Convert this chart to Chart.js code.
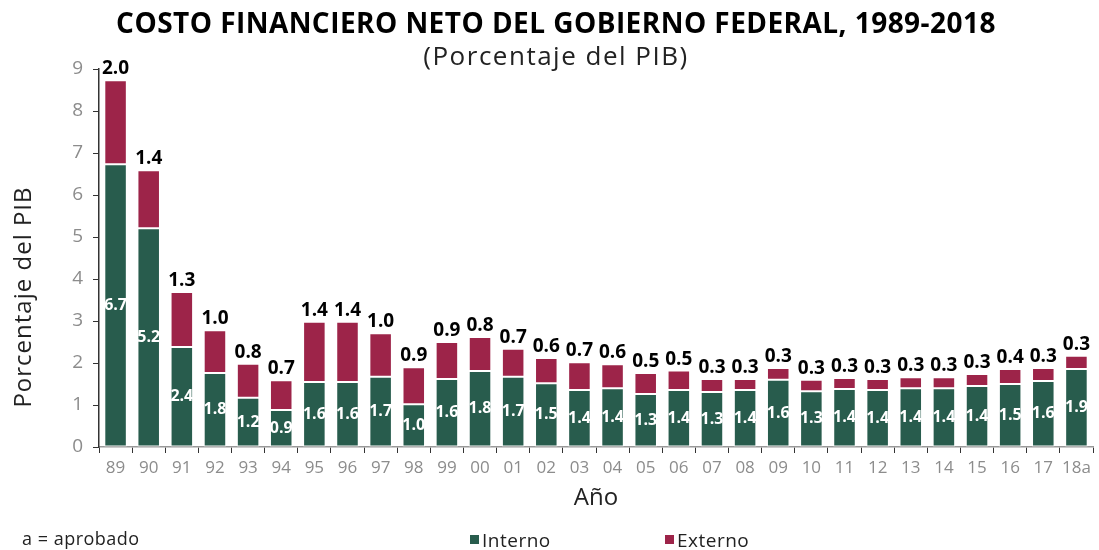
<!DOCTYPE html>
<html>
<head>
<meta charset="utf-8">
<script src="https://cdn.jsdelivr.net/npm/chart.js@4.4.1/dist/chart.umd.min.js"></script>
<style>
  html, body { margin: 0; padding: 0; background: #fff; }
  #wrap { position: relative; width: 1099px; height: 550px; }
  canvas { display: block; }
</style>
</head>
<body>
<div id="wrap"><canvas id="c" width="1099" height="550"></canvas></div>
<script>
const categories = ['89','90','91','92','93','94','95','96','97','98','99','00','01','02','03','04','05','06','07','08','09','10','11','12','13','14','15','16','17','18a'];
const interno = [6.73,5.21,2.38,1.76,1.17,0.88,1.55,1.55,1.67,1.02,1.62,1.81,1.67,1.52,1.36,1.40,1.26,1.36,1.31,1.36,1.60,1.33,1.38,1.36,1.40,1.40,1.45,1.50,1.57,1.86];
const externo = [2.00,1.38,1.31,1.02,0.81,0.71,1.43,1.43,1.04,0.88,0.88,0.81,0.67,0.60,0.66,0.57,0.50,0.46,0.31,0.26,0.28,0.27,0.26,0.26,0.26,0.26,0.29,0.36,0.31,0.31];
const yTicks = [0,1,2,3,4,5,6,7,8,9];
const titleText = 'COSTO FINANCIERO NETO DEL GOBIERNO FEDERAL, 1989-2018';
const subtitleText = '(Porcentaje del PIB)';
const yTitleText = 'Porcentaje del PIB';
const noteText = 'a = aprobado';

const FONT = "'Open Sans', 'DejaVu Sans', sans-serif";
const GREEN = '#285C4D';
const MAROON = '#9D2449';

const labelPlugin = {
  id: 'labels',
  afterDatasetsDraw(chart) {
    const ctx = chart.ctx;
    ctx.save();
    ctx.textAlign = 'center';
    const m0 = chart.getDatasetMeta(0);
    ctx.fillStyle = '#fff';
    ctx.font = "bold 16px " + FONT;
    ctx.textBaseline = 'middle';
    m0.data.forEach((bar, i) => {
      const v = chart.data.datasets[0].data[i];
      ctx.fillText(v.toFixed(1), bar.x, (bar.y + bar.base) / 2);
    });
    const m1 = chart.getDatasetMeta(1);
    ctx.fillStyle = '#000';
    ctx.font = "bold 19px " + FONT;
    ctx.textBaseline = 'alphabetic';
    m1.data.forEach((bar, i) => {
      const v = chart.data.datasets[1].data[i];
      ctx.fillText(v.toFixed(1), bar.x, bar.y - 6);
    });
    ctx.restore();
  },
  afterDraw(chart) {
    const ctx = chart.ctx;
    ctx.save();
    ctx.textAlign = 'center';
    ctx.textBaseline = 'alphabetic';
    ctx.fillStyle = '#000';
    ctx.font = "bold 28px " + FONT;
    ctx.letterSpacing = '0.45px';
    ctx.fillText(titleText, 556, 33);
    ctx.fillStyle = '#222';
    ctx.font = "26px " + FONT;
    ctx.letterSpacing = '1.5px';
    ctx.fillText(subtitleText, 556, 65);
    ctx.letterSpacing = '1px';
    // y title
    ctx.save();
    ctx.translate(31, 297);
    ctx.rotate(-Math.PI / 2);
    ctx.font = "24px " + FONT;
    ctx.fillStyle = '#222';
    ctx.fillText(yTitleText, 0, 0);
    ctx.restore();
    // note
    ctx.textAlign = 'left';
    ctx.letterSpacing = '0.5px';
    ctx.font = "18px " + FONT;
    ctx.fillStyle = '#222';
    ctx.fillText(noteText, 22, 545);
    // legend
    const items = [{x: 470}, {x: 665}];
    chart.data.datasets.forEach((ds, i) => {
      const x = items[i].x;
      ctx.fillStyle = ds.backgroundColor;
      ctx.fillRect(x, 535, 9, 9);
      ctx.fillStyle = '#222';
      ctx.font = "19px " + FONT;
      ctx.fillText(ds.label, x + 12, 547);
    });
    ctx.restore();
  }
};

new Chart(document.getElementById('c'), {
  type: 'bar',
  data: {
    labels: categories,
    datasets: [
      { label: 'Interno', data: interno, backgroundColor: GREEN, borderColor: '#ffffff', borderWidth: 1, borderSkipped: false,
        categoryPercentage: 1, barPercentage: 0.68 },
      { label: 'Externo', data: externo, backgroundColor: MAROON, borderColor: '#ffffff', borderWidth: 1, borderSkipped: false,
        categoryPercentage: 1, barPercentage: 0.68 }
    ]
  },
  options: {
    responsive: false,
    animation: false,
    devicePixelRatio: 1,
    layout: { padding: { top: 69, right: 6, bottom: 0, left: 0 } },
    plugins: { legend: { display: false }, title: { display: false }, tooltip: { enabled: false } },
    scales: {
      x: {
        stacked: true,
        afterFit(s) { s.height = 103; },
        grid: { display: true, drawOnChartArea: false, offset: true, tickLength: 6, color: '#333' },
        border: { display: true, color: '#999', width: 1.5 },
        ticks: { color: '#8c8c8c', font: { family: FONT, size: 17 }, padding: 5, maxRotation: 0, autoSkip: false },
        title: { display: true, text: 'Año', color: '#222', font: { family: FONT, size: 24 }, padding: { top: 0, bottom: 37 } }
      },
      y: {
        stacked: true,
        min: 0, max: 9,
        afterFit(s) { s.width = 99; },
        afterBuildTicks(s) { s.ticks = yTicks.map(v => ({ value: v })); },
        grid: { display: true, drawOnChartArea: false, tickLength: 6, color: '#333' },
        border: { display: true, color: '#333', width: 1.5 },
        ticks: { color: '#8c8c8c', font: { family: FONT, size: 19 }, padding: 10 },
        title: { display: false }
      }
    }
  },
  plugins: [labelPlugin]
});
</script>
</body>
</html>
